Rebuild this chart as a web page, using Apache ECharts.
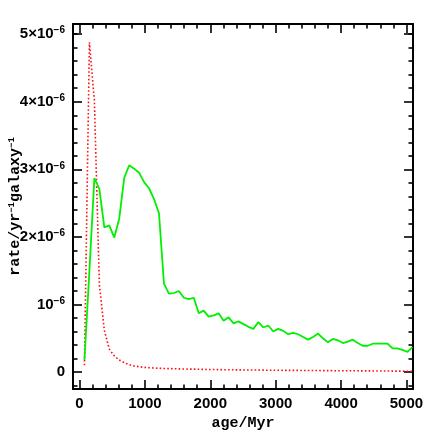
<!DOCTYPE html>
<html>
<head>
<meta charset="utf-8">
<script src="https://cdn.jsdelivr.net/npm/echarts@6/dist/echarts.min.js"></script>
<style>
  html, body { margin: 0; padding: 0; background: #fff; }
  #chart { width: 436px; height: 436px; }
</style>
</head>
<body>
<div id="chart"></div>
<script>
// ages of the model steps (Myr)
var ageMyr = [75, 151, 227, 303, 379, 455, 531, 607, 683, 759, 835, 911, 987, 1063, 1139, 1215,
    1291, 1367, 1443, 1519, 1595, 1671, 1747, 1823, 1899, 1975, 2051, 2127, 2203, 2279, 2355,
    2431, 2507, 2583, 2659, 2735, 2811, 2887, 2963, 3039, 3115, 3191, 3267, 3343, 3419, 3495,
    3571, 3647, 3723, 3799, 3875, 3951, 4027, 4103, 4179, 4255, 4331, 4407, 4483, 4559, 4635,
    4711, 4787, 4863, 4939, 5015, 5091];

// rates in units of 1e-6 /yr /galaxy
// solid green curve
var rateSolid = [0.18, 1.50, 2.87, 2.71, 2.14, 2.17, 1.99, 2.27, 2.87, 3.06, 3.01, 2.95, 2.81, 2.72,
    2.56, 2.35, 1.31, 1.16, 1.17, 1.20, 1.10, 1.08, 1.10, 0.87, 0.91, 0.82, 0.84, 0.87, 0.76, 0.81,
    0.72, 0.75, 0.71, 0.67, 0.64, 0.74, 0.66, 0.69, 0.60, 0.64, 0.61, 0.56, 0.58, 0.56, 0.52, 0.48,
    0.52, 0.57, 0.50, 0.44, 0.49, 0.47, 0.43, 0.45, 0.48, 0.43, 0.39, 0.39, 0.42, 0.42, 0.42, 0.42,
    0.35, 0.35, 0.33, 0.30, 0.37];
// dotted red curve
var rateDotted = [0.10, 4.88, 4.02, 1.30, 0.62, 0.34, 0.24, 0.18, 0.14, 0.11, 0.09, 0.08, 0.07, 0.065,
    0.06, 0.057, 0.054, 0.052, 0.05, 0.048, 0.046, 0.045, 0.044, 0.042, 0.04, 0.039, 0.038, 0.037,
    0.036, 0.035, 0.034, 0.033, 0.032, 0.031, 0.03, 0.03, 0.029, 0.028, 0.028, 0.027, 0.026, 0.026,
    0.025, 0.025, 0.024, 0.024, 0.023, 0.023, 0.022, 0.022, 0.021, 0.021, 0.02, 0.02, 0.019, 0.019,
    0.018, 0.018, 0.017, 0.017, 0.016, 0.016, 0.015, 0.015, 0.014, 0.013, 0.012];

// ticks
var xMajorTicks = [0, 1000, 2000, 3000, 4000, 5000];
var xMinorTicks = [200, 400, 600, 800, 1200, 1400, 1600, 1800, 2200, 2400, 2600, 2800,
    3200, 3400, 3600, 3800, 4200, 4400, 4600, 4800];
var yMajorTicks = [0, 1, 2, 3, 4, 5];
var yMinorTicks = [-0.2, 0.2, 0.4, 0.6, 0.8, 1.2, 1.4, 1.6, 1.8, 2.2, 2.4, 2.6, 2.8,
    3.2, 3.4, 3.6, 3.8, 4.2, 4.4, 4.6, 4.8, 5.0];

function pairs(xs, ys) {
    var d = [];
    for (var i = 0; i < xs.length; i++) {
        d.push([xs[i], ys[i]]);
    }
    return d;
}

var myChart = echarts.init(document.getElementById('chart'));

var titleFont = 'Liberation Mono';

// one axis = one set of ticks, the frame is made of the four major axes
function xAx(pos, ticks, len, main) {
    return {
        type: 'value',
        position: pos,
        min: -100,
        max: 5100,
        axisLine: { show: main, onZero: false, lineStyle: { color: '#000', width: 2 } },
        axisTick: { show: true, inside: true, length: len, customValues: ticks, lineStyle: { color: '#000', width: 1.6 } },
        axisLabel: { show: false },
        splitLine: { show: false }
    };
}
function yAx(pos, ticks, len, main) {
    return {
        type: 'value',
        position: pos,
        min: -0.25,
        max: 5.15,
        axisLine: { show: main, onZero: false, lineStyle: { color: '#000', width: 2 } },
        axisTick: { show: true, inside: true, length: len, customValues: ticks, lineStyle: { color: '#000', width: 1.6 } },
        axisLabel: { show: false },
        splitLine: { show: false }
    };
}

var xBottom = xAx('bottom', xMajorTicks, 9, true);
xBottom.axisLabel = {
    show: true,
    customValues: xMajorTicks,
    margin: 7,
    formatter: function (v) { return String(v); },
    fontFamily: 'Liberation Sans',
    fontWeight: 'bold',
    fontSize: 15,
    color: '#000'
};
xBottom.name = 'age/Myr';
xBottom.nameLocation = 'middle';
xBottom.nameGap = 27;
xBottom.nameMoveOverlap = false;
xBottom.nameTextStyle = { fontFamily: titleFont, fontWeight: 'bold', fontSize: 15, color: '#000' };

var yLeft = yAx('left', yMajorTicks, 9, true);
yLeft.axisLabel = {
    show: true,
    customValues: yMajorTicks,
    margin: 8,
    formatter: function (v) {
        if (v === 0) return '{m|0}';
        if (v === 1) return '{m|10}{e|−6}';
        return '{m|' + v + '×10}{e|−6}';
    },
    rich: {
        m: { fontFamily: 'Liberation Sans', fontWeight: 'bold', fontSize: 15, color: '#000', lineHeight: 17 },
        e: { fontFamily: 'Liberation Sans', fontWeight: 'bold', fontSize: 10, color: '#000', lineHeight: 17, verticalAlign: 'top' }
    }
};
yLeft.name = '{t|rate/yr}{s|−1}{t|galaxy}{s|−1}';
yLeft.nameLocation = 'middle';
yLeft.nameRotate = 90;
yLeft.nameGap = 50;
yLeft.nameMoveOverlap = false;
yLeft.nameTextStyle = {
    rich: {
        t: { fontFamily: titleFont, fontWeight: 'bold', fontSize: 15, color: '#000', lineHeight: 16 },
        s: { fontFamily: titleFont, fontWeight: 'bold', fontSize: 9, color: '#000', lineHeight: 16, verticalAlign: 'top' }
    }
};

var option = {
    animation: false,
    backgroundColor: '#fff',
    grid: { left: 73, top: 24, width: 340, height: 365, containLabel: false, outerBoundsMode: 'none' },
    xAxis: [
        xBottom,
        xAx('bottom', xMinorTicks, 4.5, false),
        xAx('top', xMajorTicks, 9, true),
        xAx('top', xMinorTicks, 4.5, false)
    ],
    yAxis: [
        yLeft,
        yAx('left', yMinorTicks, 4.5, false),
        yAx('right', yMajorTicks, 9, true),
        yAx('right', yMinorTicks, 4.5, false)
    ],
    series: [
        {
            name: 'dotted',
            type: 'line',
            xAxisIndex: 0,
            yAxisIndex: 0,
            symbol: 'none',
            data: pairs(ageMyr, rateDotted),
            lineStyle: { color: '#ff1010', width: 1.6, type: [1.6, 2.2] },
            z: 3
        },
        {
            name: 'solid',
            type: 'line',
            xAxisIndex: 0,
            yAxisIndex: 0,
            symbol: 'none',
            data: pairs(ageMyr, rateSolid),
            lineStyle: { color: '#00f000', width: 1.8 },
            z: 4
        }
    ]
};
myChart.setOption(option);
</script>
</body>
</html>
